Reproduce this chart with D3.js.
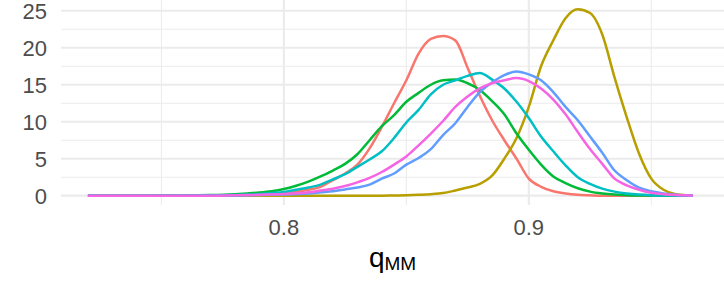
<!DOCTYPE html>
<html>
<head>
<meta charset="utf-8">
<script src="https://cdn.jsdelivr.net/npm/d3@7"></script>
<style>
  body { margin: 0; background: #fff; }
  text { font-family: "Liberation Sans", Arial, sans-serif; }
</style>
</head>
<body>
<div id="chart"></div>
<script>
// density grid (q_MM) shared by all groups
var qGrid = [0.72, 0.74, 0.76, 0.77, 0.78, 0.785, 0.79, 0.795, 0.80, 0.805, 0.81, 0.815, 0.82, 0.825,
  0.83, 0.835, 0.84, 0.845, 0.85, 0.855, 0.86, 0.865, 0.87, 0.875, 0.88, 0.885, 0.89, 0.895,
  0.90, 0.905, 0.91, 0.915, 0.92, 0.925, 0.93, 0.935, 0.94, 0.945, 0.95, 0.955, 0.96, 0.965, 0.967];

var densRed     = [0, 0, 0, 0, 0, 0.05, 0.1, 0.2, 0.35, 0.5, 0.8, 1.2, 2.1, 3.0,
  4.2, 6.4, 9.3, 12.5, 15.6, 19.2, 21.2, 21.6, 21.0, 17.3, 13.5, 10.2, 7.5, 5.0,
  2.3, 1.2, 0.6, 0.3, 0.12, 0.05, 0, 0, 0, 0, 0, 0, 0, 0, 0];
var densOlive   = [0, 0, 0, 0, 0, 0, 0, 0, 0, 0, 0, 0, 0, 0,
  0, 0, 0, 0.03, 0.06, 0.12, 0.2, 0.35, 0.7, 1.1, 1.6, 2.7, 5.0, 7.8,
  12.0, 17.5, 21.0, 24.0, 25.2, 24.7, 21.8, 16.0, 10.6, 5.7, 2.3, 0.8, 0.2, 0.05, 0.02];
var densGreen   = [0, 0, 0.02, 0.08, 0.2, 0.3, 0.42, 0.6, 0.9, 1.35, 1.9, 2.6, 3.4, 4.3,
  5.6, 7.5, 9.4, 10.9, 12.7, 13.9, 15.0, 15.6, 15.7, 15.2, 14.3, 12.8, 11.0, 8.4,
  6.2, 4.2, 2.6, 1.7, 1.0, 0.55, 0.3, 0.15, 0.07, 0.03, 0.01, 0, 0, 0, 0];
var densTeal    = [0, 0, 0.01, 0.03, 0.1, 0.15, 0.22, 0.35, 0.5, 0.8, 1.1, 1.5, 2.2, 2.9,
  3.9, 4.9, 6.0, 7.8, 9.9, 11.6, 13.7, 15.0, 15.6, 16.2, 16.6, 15.7, 14.5, 12.7,
  10.5, 8.0, 6.0, 4.1, 2.5, 1.6, 0.95, 0.55, 0.3, 0.15, 0.07, 0.03, 0.01, 0, 0];
var densBlue    = [0, 0, 0, 0, 0.03, 0.05, 0.08, 0.11, 0.15, 0.22, 0.3, 0.45, 0.6, 0.85,
  1.1, 1.5, 2.3, 3.0, 4.2, 5.1, 6.3, 8.2, 9.8, 12.0, 14.0, 15.3, 16.3, 16.8,
  16.4, 15.6, 14.0, 12.0, 10.2, 8.0, 5.8, 3.4, 2.1, 1.1, 0.6, 0.3, 0.12, 0.04, 0.02];
var densMagenta = [0, 0, 0, 0, 0.05, 0.08, 0.12, 0.17, 0.22, 0.32, 0.45, 0.7, 0.95, 1.3,
  1.8, 2.4, 3.2, 4.2, 5.3, 6.8, 8.4, 10.1, 12.0, 13.4, 14.5, 15.2, 15.6, 15.9,
  15.5, 14.5, 13.0, 11.0, 8.6, 6.3, 4.3, 2.3, 1.4, 0.8, 0.4, 0.2, 0.08, 0.03, 0.01];

var seriesList = [densRed, densOlive, densGreen, densTeal, densBlue, densMagenta];
var seriesColors = ["#F8766D", "#B79F00", "#00BA38", "#00BFC4", "#619CFF", "#F564E3"];

var xMajor = [0.8, 0.9];
var xMinor = [0.75, 0.85, 0.95];
var yMajor = [0, 5, 10, 15, 20, 25];
var yMinor = [2.5, 7.5, 12.5, 17.5, 22.5];

var svgWidth = 724;
var svgHeight = 293;

var panel = { left: 61, right: 724, top: 0, bottom: 205 };

var svg = d3.select("#chart")
  .append("svg")
    .attr("width", svgWidth)
    .attr("height", svgHeight);

var x = d3.scaleLinear()
  .domain([0.709, 0.9797])
  .range([panel.left, panel.right]);

var y = d3.scaleLinear()
  .domain([-1.26, 26.46])
  .range([panel.bottom, panel.top]);

// grid lines
var grid = svg.append("g");
grid.selectAll(".ymin").data(yMinor).enter().append("line")
  .attr("x1", panel.left).attr("x2", panel.right)
  .attr("y1", d => y(d)).attr("y2", d => y(d))
  .attr("stroke", "#EBEBEB").attr("stroke-width", 1.07);
grid.selectAll(".xmin").data(xMinor).enter().append("line")
  .attr("x1", d => x(d)).attr("x2", d => x(d))
  .attr("y1", panel.top).attr("y2", panel.bottom)
  .attr("stroke", "#EBEBEB").attr("stroke-width", 1.07);
grid.selectAll(".ymaj").data(yMajor).enter().append("line")
  .attr("x1", panel.left).attr("x2", panel.right)
  .attr("y1", d => y(d)).attr("y2", d => y(d))
  .attr("stroke", "#EBEBEB").attr("stroke-width", 2.13);
grid.selectAll(".xmaj").data(xMajor).enter().append("line")
  .attr("x1", d => x(d)).attr("x2", d => x(d))
  .attr("y1", panel.top).attr("y2", panel.bottom)
  .attr("stroke", "#EBEBEB").attr("stroke-width", 2.13);

// density lines
var line = d3.line()
  .x((d, i) => x(qGrid[i]))
  .y(d => y(d))
  .curve(d3.curveMonotoneX);

svg.append("g").selectAll("path")
  .data(seriesList)
  .enter()
  .append("path")
    .attr("d", d => line(d))
    .attr("fill", "none")
    .attr("stroke", (d, i) => seriesColors[i])
    .attr("stroke-width", 2.5)
    .attr("stroke-linejoin", "round");

// axis tick labels
svg.append("g").selectAll("text")
  .data(yMajor)
  .enter()
  .append("text")
    .attr("x", 47)
    .attr("y", d => y(d) + 8)
    .attr("text-anchor", "end")
    .attr("font-size", 22)
    .attr("fill", "#4D4D4D")
    .text(d => d);

svg.append("g").selectAll("text")
  .data(xMajor)
  .enter()
  .append("text")
    .attr("x", d => x(d))
    .attr("y", 235)
    .attr("text-anchor", "middle")
    .attr("font-size", 22)
    .attr("fill", "#4D4D4D")
    .text(d => d3.format(".1f")(d));

// x axis title q_MM
var title = svg.append("text")
  .attr("x", (panel.left + panel.right) / 2)
  .attr("y", 267)
  .attr("text-anchor", "middle")
  .attr("fill", "#000");
title.append("tspan").attr("font-size", 28).text("q");
title.append("tspan").attr("font-size", 19).attr("dy", 3).text("MM");
</script>
</body>
</html>
